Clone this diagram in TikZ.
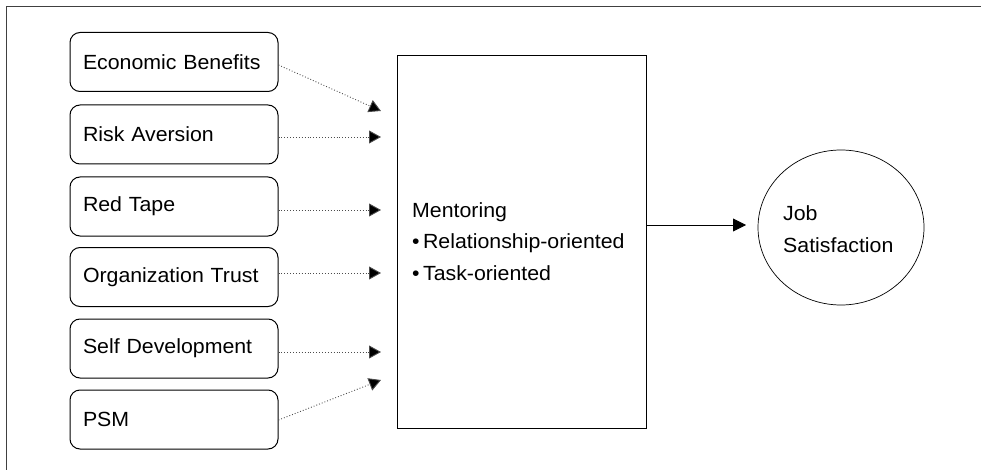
\documentclass[tikz,border=0pt]{standalone}
\usepackage{fontspec}
\setmainfont[FakeStretch=1.04]{Liberation Sans}
\usetikzlibrary{arrows.meta,shapes.geometric}
\begin{document}
\begin{tikzpicture}[x=1pt,y=-1pt,
  every node/.style={font=\fontsize{20.5}{31.5}\selectfont},
  factor/.style={draw, rounded corners=10pt, line width=1pt, minimum width=208pt, minimum height=59pt,
    text width=182pt, inner xsep=13pt, inner ysep=0pt, align=left},
  mentbox/.style={draw, line width=1pt, minimum width=249pt, minimum height=372pt},
  outcome/.style={draw, ellipse, line width=0.7pt, minimum width=166pt, minimum height=155pt, inner sep=0pt},
  label text/.style={anchor=base west, inner sep=0pt, align=left},
  dotarrow/.style={dotted, line width=0.9pt, black!70, -{Triangle[length=12pt,width=13pt,fill=black]}},
  solidarrow/.style={line width=0.9pt, -{Triangle[length=13pt,width=13pt]}}
]
\useasboundingbox (0,0) rectangle (981,470);
\draw[line width=1.6pt, black!75] (6.5,470) -- (6.5,6.5) -- (981,6.5);

\node[factor] (f1) at (174,62) {Economic Benefits};
\node[factor] (f2) at (174,134.5) {Risk Aversion};
\node[factor] (f3) at (174,206.5) {Red Tape};
\node[factor] (f4) at (174,277) {Organization Trust};
\node[factor] (f5) at (174,348.5) {Self Development};
\node[factor] (f6) at (174,419.5) {PSM};

\node[mentbox] (ment) at (521.5,242) {};
\node[label text] (mtext) at (412,280) {Mentoring\\\textbullet\,Relationship-oriented\\\textbullet\,Task-oriented};

\node[outcome] (job) at (841,227.5) {};
\node[label text] (jtext) at (783,252) {Job\\Satisfaction};

\coordinate (t1) at (381,111);
\coordinate (t2) at (381,137);
\coordinate (t3) at (381,210);
\coordinate (t4) at (381,273);
\coordinate (t5) at (381,352);
\coordinate (t6) at (381,380);

\draw[dotarrow] (f1.east |- 0,65) -- (t1);
\draw[dotarrow] (f2.east |- t2) -- (t2);
\draw[dotarrow] (f3.east |- t3) -- (t3);
\draw[dotarrow] (f4.east |- t4) -- (t4);
\draw[dotarrow] (f5.east |- t5) -- (t5);
\draw[dotarrow] (f6.east |- 0,420) -- (t6);

\coordinate (jin) at (746,225);
\draw[solidarrow] (ment.east |- jin) -- (jin);
\end{tikzpicture}
\end{document}
